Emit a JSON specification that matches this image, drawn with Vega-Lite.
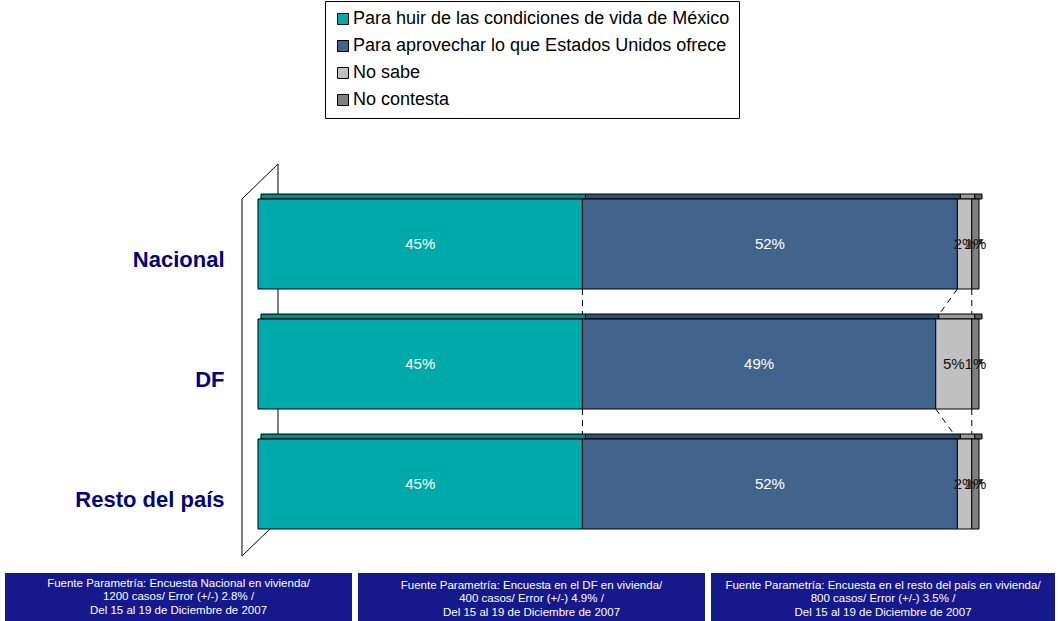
{
  "$schema": "https://vega.github.io/schema/vega-lite/v6.json",
  "padding": {"left": 5, "top": 0, "right": 0, "bottom": 0},
  "background": "white",
  "config": {"view": {"stroke": null}, "font": "Liberation Sans"},
  "datasets": {
    "shares": [
      {"region": "Nacional", "response": "Para huir de las condiciones de vida de México", "k": 1, "share": 0.45},
      {"region": "Nacional", "response": "Para aprovechar lo que Estados Unidos ofrece", "k": 2, "share": 0.52},
      {"region": "Nacional", "response": "No sabe", "k": 3, "share": 0.02},
      {"region": "Nacional", "response": "No contesta", "k": 4, "share": 0.01},
      {"region": "DF", "response": "Para huir de las condiciones de vida de México", "k": 1, "share": 0.45},
      {"region": "DF", "response": "Para aprovechar lo que Estados Unidos ofrece", "k": 2, "share": 0.49},
      {"region": "DF", "response": "No sabe", "k": 3, "share": 0.05},
      {"region": "DF", "response": "No contesta", "k": 4, "share": 0.01},
      {"region": "Resto del país", "response": "Para huir de las condiciones de vida de México", "k": 1, "share": 0.45},
      {"region": "Resto del país", "response": "Para aprovechar lo que Estados Unidos ofrece", "k": 2, "share": 0.52},
      {"region": "Resto del país", "response": "No sabe", "k": 3, "share": 0.02},
      {"region": "Resto del país", "response": "No contesta", "k": 4, "share": 0.01}
    ],
    "links": [
      {"from": "Nacional", "to": "DF", "a": 0.45, "b": 0.45},
      {"from": "Nacional", "to": "DF", "a": 0.97, "b": 0.94},
      {"from": "Nacional", "to": "DF", "a": 0.99, "b": 0.99},
      {"from": "DF", "to": "Resto del país", "a": 0.45, "b": 0.45},
      {"from": "DF", "to": "Resto del país", "a": 0.94, "b": 0.97},
      {"from": "DF", "to": "Resto del país", "a": 0.99, "b": 0.99}
    ],
    "frame": [{"part": "wall"}]
  },
  "spacing": 16,
  "vconcat": [
    {
      "width": 974,
      "height": 360,
      "layer": [
        {
          "data": {"name": "frame"},
          "mark": {"type": "rule", "color": "black", "strokeWidth": 1, "xOffset": 20, "yOffset": -35, "y2Offset": -6},
          "encoding": {
            "x": {"datum": 0, "type": "quantitative"},
            "y": {"datum": "Nacional", "type": "nominal", "bandPosition": 0},
            "y2": {"datum": "Resto del país", "bandPosition": 1}
          }
        },
        {
          "data": {"name": "frame"},
          "mark": {"type": "rule", "color": "black", "strokeWidth": 1, "xOffset": -16, "yOffset": 0, "y2Offset": 27},
          "encoding": {
            "x": {"datum": 0, "type": "quantitative"},
            "y": {"datum": "Nacional", "type": "nominal", "bandPosition": 0},
            "y2": {"datum": "Resto del país", "bandPosition": 1}
          }
        },
        {
          "data": {"name": "frame"},
          "mark": {"type": "rule", "color": "black", "strokeWidth": 1, "xOffset": -16, "x2Offset": 20, "yOffset": 0, "y2Offset": -35},
          "encoding": {
            "x": {"datum": 0, "type": "quantitative"},
            "x2": {"datum": 0},
            "y": {"datum": "Nacional", "type": "nominal", "bandPosition": 0},
            "y2": {"datum": "Nacional", "bandPosition": 0}
          }
        },
        {
          "data": {"name": "frame"},
          "mark": {"type": "rule", "color": "black", "strokeWidth": 1, "xOffset": -16, "x2Offset": 15, "yOffset": 27, "y2Offset": -3},
          "encoding": {
            "x": {"datum": 0, "type": "quantitative"},
            "x2": {"datum": 0},
            "y": {"datum": "Resto del país", "type": "nominal", "bandPosition": 1},
            "y2": {"datum": "Resto del país", "bandPosition": 1}
          }
        },
        {
          "data": {"name": "links"},
          "mark": {"type": "rule", "color": "black", "strokeWidth": 1, "strokeDash": [6, 5]},
          "encoding": {
            "x": {"field": "a", "type": "quantitative"},
            "x2": {"field": "b"},
            "y": {"field": "from", "type": "nominal", "bandPosition": 1},
            "y2": {"field": "to", "bandPosition": 0}
          }
        },
        {
          "data": {"name": "shares"},
          "mark": {"type": "bar", "height": 5, "yOffset": -47.5, "xOffset": 3, "stroke": "black", "strokeWidth": 1},
          "encoding": {
            "y": {"field": "region", "type": "nominal"},
            "x": {"field": "share", "type": "quantitative", "stack": "zero"},
            "order": {"field": "k"},
            "color": {
              "field": "response", "type": "nominal", "legend": null,
              "scale": {"domain": ["Para huir de las condiciones de vida de México", "Para aprovechar lo que Estados Unidos ofrece", "No sabe", "No contesta"], "range": ["#008A8A", "#2F4F74", "#9A9A9A", "#5E5E5E"]}
            }
          }
        },
        {
          "data": {"name": "shares"},
          "transform": [{"filter": "datum.k == 4"}],
          "mark": {"type": "rule", "color": "#404040", "strokeWidth": 5, "strokeCap": "butt", "xOffset": 3, "yOffset": -2.5},
          "encoding": {
            "y": {"field": "region", "type": "nominal"},
            "x": {"datum": 1, "type": "quantitative"}
          }
        },
        {
          "data": {"name": "shares"},
          "mark": {"type": "bar", "stroke": "black", "strokeWidth": 1},
          "encoding": {
            "y": {"field": "region", "type": "nominal"},
            "x": {"field": "share", "type": "quantitative", "stack": "zero"},
            "order": {"field": "k"},
            "color": {
              "field": "response", "type": "nominal",
              "scale": {"domain": ["Para huir de las condiciones de vida de México", "Para aprovechar lo que Estados Unidos ofrece", "No sabe", "No contesta"], "range": ["#00AAAA", "#42648C", "#C0C0C0", "#808080"]},
              "legend": {
                "orient": "none", "legendX": 320, "legendY": -183, "direction": "vertical",
                "title": null, "strokeColor": "black", "fillColor": "white", "padding": 9,
                "symbolType": "square", "symbolSize": 121, "symbolStrokeColor": "black", "symbolStrokeWidth": 1,
                "labelFontSize": 18, "labelFont": "Liberation Sans", "labelColor": "black", "labelLimit": 600,
                "rowPadding": 9, "labelOffset": 1
              }
            }
          }
        },
        {
          "data": {"name": "shares"},
          "mark": {"type": "text", "fontSize": 15, "font": "Liberation Sans"},
          "encoding": {
            "y": {"field": "region", "type": "nominal"},
            "x": {"field": "share", "type": "quantitative", "stack": "zero", "bandPosition": 0.5},
            "order": {"field": "k"},
            "text": {"field": "share", "type": "quantitative", "format": ".0%"},
            "color": {"condition": {"test": "datum.share >= 0.1", "value": "white"}, "value": "#111111"}
          }
        }
      ],
      "resolve": {"scale": {"color": "independent"}},
      "encoding": {
        "y": {
          "field": "region", "type": "nominal",
          "sort": ["Nacional", "DF", "Resto del país"],
          "scale": {"domain": ["Nacional", "DF", "Resto del país"], "paddingInner": 0.25, "paddingOuter": 0.125},
          "axis": {
            "title": null, "ticks": false, "domain": false, "labelPadding": 34, "labelOffset": 16, "offset": -253,
            "labelFontSize": 22, "labelFontWeight": "bold", "labelColor": "#000080", "labelFont": "Liberation Sans"
          }
        },
        "x": {
          "type": "quantitative",
          "scale": {"domain": [-0.3509, 1], "nice": false, "zero": false},
          "axis": null
        }
      }
    },
    {
      "spacing": 6,
      "hconcat": [
        {
          "width": 347, "height": 49,
          "view": {"fill": "#16198C", "stroke": null},
          "data": {"values": [{"note": "Fuente Parametría: Encuesta Nacional en vivienda/\n1200 casos/ Error (+/-) 2.8% /\nDel  15  al 19  de Diciembre de 2007"}]},
          "mark": {"type": "text", "lineBreak": "\n", "color": "white", "font": "Liberation Sans", "fontSize": 11.5, "lineHeight": 13.5, "baseline": "middle", "align": "center", "dy": -14},
          "encoding": {"text": {"field": "note"}}
        },
        {
          "width": 347, "height": 49,
          "view": {"fill": "#16198C", "stroke": null},
          "data": {"values": [{"note": "Fuente Parametría: Encuesta en el DF en vivienda/\n400 casos/ Error (+/-) 4.9% /\nDel  15  al 19  de Diciembre de 2007"}]},
          "mark": {"type": "text", "lineBreak": "\n", "color": "white", "font": "Liberation Sans", "fontSize": 11.5, "lineHeight": 13.5, "baseline": "middle", "align": "center", "dy": -12},
          "encoding": {"text": {"field": "note"}}
        },
        {
          "width": 344, "height": 49,
          "view": {"fill": "#16198C", "stroke": null},
          "data": {"values": [{"note": "Fuente Parametría: Encuesta en el resto del país en vivienda/\n800 casos/ Error (+/-) 3.5% /\nDel  15  al 19  de Diciembre de 2007"}]},
          "mark": {"type": "text", "lineBreak": "\n", "color": "white", "font": "Liberation Sans", "fontSize": 11.5, "lineHeight": 13.5, "baseline": "middle", "align": "center", "dy": -12},
          "encoding": {"text": {"field": "note"}}
        }
      ]
    }
  ]
}
